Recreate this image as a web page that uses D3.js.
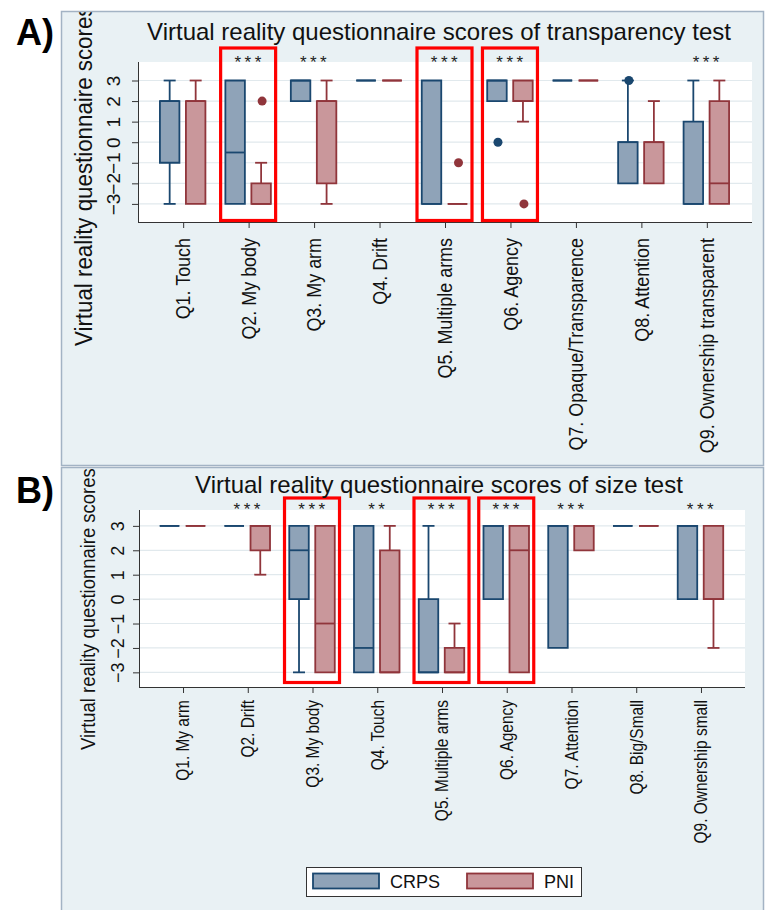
<!DOCTYPE html>
<html><head><meta charset="utf-8">
<script src="https://cdn.jsdelivr.net/npm/d3@7"></script>
<style>body{margin:0;background:#fff}svg{display:block}text{font-family:"Liberation Sans",Arial,sans-serif}</style>
</head><body><svg id="c" width="771" height="910"></svg>
<script>
// ---------- DATA ----------
const series = ["CRPS", "PNI"];
const catsA = ["Q1. Touch","Q2. My body","Q3. My arm","Q4. Drift","Q5. Multiple arms","Q6. Agency","Q7. Opaque/Transparence","Q8. Attention","Q9. Ownership transparent"];
const catsB = ["Q1. My arm","Q2. Drift","Q3. My body","Q4. Touch","Q5. Multiple arms","Q6. Agency","Q7. Attention","Q8. Big/Small","Q9. Ownership small"];
// each entry: [lower whisker, q1, median, q3, upper whisker]
const crpsA = [[-3,-1,2,2,3],[-3,-3,-0.5,3,3],[2,2,3,3,3],[3,3,3,3,3],[-3,-3,-3,3,3],[2,2,3,3,3],[3,3,3,3,3],[-2,-2,0,0,3],[-3,-3,-3,1,3]];
const pniA  = [[-3,-3,2,2,3],[-3,-3,-3,-2,-1],[-3,-2,2,2,3],[3,3,3,3,3],[-3,-3,-3,-3,-3],[1,2,2,3,3],[3,3,3,3,3],[-2,-2,0,0,2],[-3,-3,-2,2,3]];
const crpsAOut = [[],[],[],[],[],[0],[],[3],[]];
const pniAOut  = [[],[2],[],[],[-1],[-3],[],[],[]];
const starsA = ["","***","***","","***","***","","","***"];
const flaggedA = ["Q2. My body","Q5. Multiple arms","Q6. Agency"];

const crpsB = [[3,3,3,3,3],[3,3,3,3,3],[-3,0,2,3,3],[-3,-3,-2,3,3],[-3,-3,-3,0,3],[0,0,3,3,3],[-2,-2,3,3,3],[3,3,3,3,3],[0,0,3,3,3]];
const pniB  = [[3,3,3,3,3],[1,2,3,3,3],[-3,-3,-1,3,3],[-3,-3,-3,2,3],[-3,-3,-3,-2,-1],[-3,-3,2,3,3],[2,2,3,3,3],[3,3,3,3,3],[-2,0,0,3,3]];
const crpsBOut = [[],[],[],[],[],[],[],[],[]];
const pniBOut  = [[],[],[],[],[],[],[],[],[]];
const starsB = ["","***","***","**","***","***","***","","***"];
const flaggedB = ["Q3. My body","Q5. Multiple arms","Q6. Agency"];

const yTicks = [-3,-2,-1,0,1,2,3];
const titleA = "Virtual reality questionnaire scores of transparency test";
const titleB = "Virtual reality questionnaire scores of size test";
const yTitle = "Virtual reality questionnaire scores";

// ---------- STYLE ----------
const stroke = {CRPS:"#1a476f", PNI:"#90353b"};
const fill = {CRPS:"#8fa3b8", PNI:"#c9979b"};
const svg = d3.select("#c");

function panel(o){
  const g = svg.append("g");
  const clipId = "clip"+o.id;
  svg.append("defs").append("clipPath").attr("id",clipId)
    .append("rect").attr("x",o.fx).attr("y",o.fy).attr("width",o.fw).attr("height",o.fh);
  const pg = g.append("g").attr("clip-path","url(#"+clipId+")");
  pg.append("rect").attr("x",o.fx).attr("y",o.fy).attr("width",o.fw).attr("height",o.fh)
    .attr("fill","#e9f1f4");
  const x = d3.scalePoint().domain(o.cats).range([o.left,o.right]).padding(o.pad);
  const y = d3.scaleLinear().domain(o.dom).range([o.bottom,o.top]);
  pg.append("rect").attr("x",o.left).attr("y",o.top).attr("width",o.right-o.left).attr("height",o.bottom-o.top).attr("fill","#fff");
  pg.append("g").selectAll("line").data(yTicks).join("line")
    .attr("x1",o.left).attr("x2",o.right).attr("y1",d=>y(d)).attr("y2",d=>y(d))
    .attr("stroke","#e1e9ed").attr("stroke-width",1.2);
  const ya = pg.append("g").attr("transform",`translate(${o.left},0)`)
    .call(d3.axisLeft(y).tickValues(yTicks).tickSize(6).tickFormat(d3.format("d")));
  ya.attr("font-family",null);
  ya.select(".domain").attr("stroke","#333").attr("d",`M0.5,${o.top}V${o.bottom}`);
  ya.selectAll(".tick line").attr("stroke","#333");
  ya.selectAll(".tick text").attr("font-size",o.ytfs).attr("fill","#111")
    .attr("text-anchor","middle").attr("dominant-baseline","central")
    .attr("x",null).attr("dy",null)
    .attr("transform",`translate(${o.ytx-o.left},0) rotate(-90)`);
  const xa = pg.append("g").attr("transform",`translate(0,${o.bottom})`)
    .call(d3.axisBottom(x).tickSize(6).tickSizeOuter(0));
  xa.attr("font-family",null);
  xa.select(".domain").attr("stroke","#333").attr("d",`M${o.left},0.5H${o.right}`);
  xa.selectAll(".tick line").attr("stroke","#333");
  xa.selectAll(".tick text").attr("font-size",o.xtfs).attr("fill","#111")
    .attr("text-anchor","end").attr("dominant-baseline","central").attr("dy",null).attr("y",null)
    .attr("transform",`translate(0,${o.xgap}) rotate(-90) scale(${o.xk},1)`);
  const sets = [{s:"CRPS",d:o.crps,out:o.crpsOut,off:-13.5},{s:"PNI",d:o.pni,out:o.pniOut,off:12.5}];
  const bw = 19.5, cw = 12;
  sets.forEach(st=>{
    const sg = pg.append("g").attr("stroke",stroke[st.s]).attr("stroke-width",1.8).attr("fill","none");
    st.d.forEach((v,i)=>{
      const cx = x(o.cats[i])+st.off;
      const [lo,q1,md,q3,hi] = v;
      if(hi>q3){
        sg.append("line").attr("x1",cx).attr("x2",cx).attr("y1",y(q3)).attr("y2",y(hi));
        sg.append("line").attr("x1",cx-cw/2).attr("x2",cx+cw/2).attr("y1",y(hi)).attr("y2",y(hi));
      }
      if(lo<q1){
        sg.append("line").attr("x1",cx).attr("x2",cx).attr("y1",y(q1)).attr("y2",y(lo));
        sg.append("line").attr("x1",cx-cw/2).attr("x2",cx+cw/2).attr("y1",y(lo)).attr("y2",y(lo));
      }
      sg.append("path").attr("fill",fill[st.s])
        .attr("d",`M${cx-bw/2},${y(q3)}H${cx+bw/2}V${y(q1)}H${cx-bw/2}Z`);
      sg.append("line").attr("x1",cx-bw/2).attr("x2",cx+bw/2).attr("y1",y(md)).attr("y2",y(md));
      st.out[i].forEach(p=>{
        sg.append("circle").attr("cx",cx+1).attr("cy",y(p)).attr("r",4.5).attr("fill",stroke[st.s]).attr("stroke","none");
      });
    });
  });
  pg.append("g").selectAll("text").data(o.stars).join("text")
    .attr("x",(d,i)=>x(o.cats[i])+1).attr("y",o.starY)
    .attr("text-anchor","middle").attr("font-size",17).attr("letter-spacing",3.5).attr("fill","#222")
    .text(d=>d);
  pg.append("g").selectAll("rect").data(o.flag).join("rect")
    .attr("x",d=>x(d)-28).attr("width",55)
    .attr("y",o.top-o.redTop).attr("height",o.bottom-o.top+o.redTop-o.redBot)
    .attr("fill","none").attr("stroke","#f00").attr("stroke-width",3.2);
  pg.append("text").attr("x",o.tx).attr("y",o.ty).attr("text-anchor","middle")
    .attr("font-size",24).attr("fill","#111").text(o.title);
  pg.append("text").attr("transform",`translate(${o.ytitleX},${o.ytitleY}) rotate(-90) scale(${o.ytk},1)`)
    .attr("font-size",o.ytitleFs).attr("fill","#111").text(yTitle);
  g.append("rect").attr("x",o.fx+0.5).attr("y",o.fy+0.5).attr("width",o.fw-1).attr("height",o.fh-1)
    .attr("fill","none").attr("stroke","#a3b3c4").attr("stroke-width",1.5);
  svg.append("text").attr("x",16).attr("y",o.ly).attr("font-size",36).attr("font-weight","bold")
    .attr("fill","#000").text(o.letter);
}

panel({id:"A",cats:catsA,crps:crpsA,pni:pniA,crpsOut:crpsAOut,pniOut:pniAOut,stars:starsA,flag:flaggedA,
  fx:61,fy:11,fw:703,fh:455,left:138,right:752,top:62,bottom:222,pad:0.69,dom:[-3.88,3.9],
  ytfs:19,ytx:113.5,xtfs:19.5,xk:0.92,xgap:16,starY:68,redTop:14,redBot:1.5,title:titleA,tx:439,ty:40,
  ytitleX:92,ytitleY:346,ytitleFs:24,ytk:0.93,letter:"A)",ly:45});
panel({id:"B",cats:catsB,crps:crpsB,pni:pniB,crpsOut:crpsBOut,pniOut:pniBOut,stars:starsB,flag:flaggedB,
  fx:61,fy:467,fw:703,fh:450,left:139,right:745,top:510,bottom:687,pad:0.68,dom:[-3.6,3.65],
  ytfs:18,ytx:117.5,xtfs:18,xk:0.86,xgap:13,starY:515,redTop:12,redBot:4.5,title:titleB,tx:439,ty:493,
  ytitleX:95,ytitleY:750,ytitleFs:20.5,ytk:0.9,letter:"B)",ly:503});

const lg = svg.append("g");
lg.append("rect").attr("x",306.5).attr("y",867.5).attr("width",275).attr("height",29).attr("fill","#fff").attr("stroke","#333").attr("stroke-width",1);
const lx = d3.scaleOrdinal().domain(series).range([312,466]);
series.forEach(s=>{
  lg.append("rect").attr("x",lx(s)+1).attr("y",873.5).attr("width",66).attr("height",15)
    .attr("fill",fill[s]).attr("stroke",stroke[s]).attr("stroke-width",1.8);
  lg.append("text").attr("x",lx(s)+78).attr("y",888).attr("font-size",18).attr("fill","#111").text(s);
});
</script></body></html>
